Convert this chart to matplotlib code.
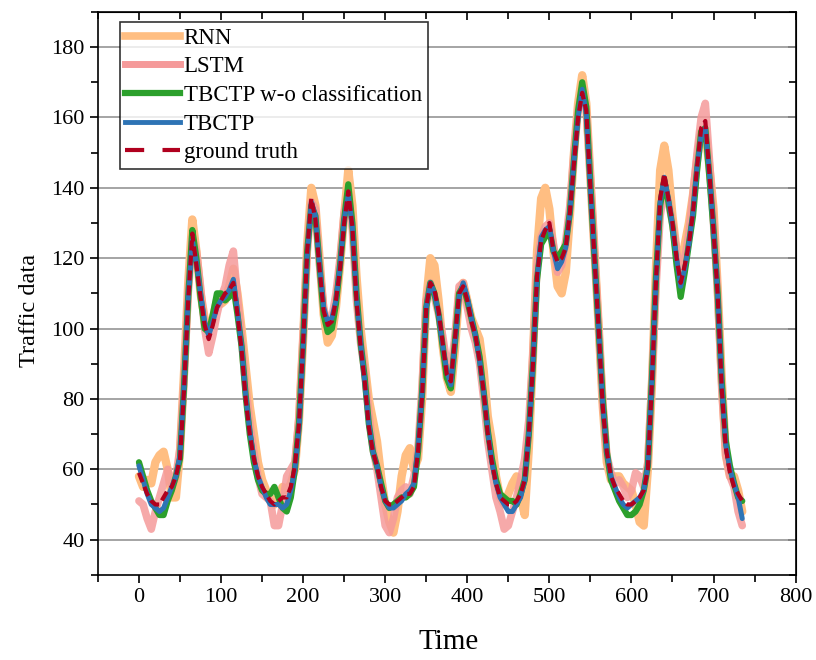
import numpy as np
import matplotlib
matplotlib.use('Agg')
import matplotlib.pyplot as plt
from matplotlib.lines import Line2D

plt.rcParams['font.family'] = ['Liberation Serif', 'DejaVu Serif']

# time steps (every 5th step of the series)
t = list(range(0, 740, 5))

# ground truth
gt = [59, 56, 53, 51, 50, 50, 52, 54, 55, 58, 63, 83, 108, 127, 118, 109, 101, 97, 101, 106,
      108, 110, 111, 113, 104, 94, 80, 70, 63, 58, 55, 53, 51, 50, 51, 52, 52, 55, 61, 73,
      96, 122, 137, 131, 117, 105, 101, 102, 108, 117, 130, 139, 129, 108, 95, 85, 72, 65, 61, 55,
      51, 50, 50, 51, 52, 53, 53, 55, 65, 81, 106, 113, 111, 105, 96, 87, 85, 97, 110, 112,
      108, 102, 98, 91, 82, 70, 62, 56, 52, 51, 50, 50, 51, 53, 57, 70, 90, 115, 125, 128,
      130, 122, 119, 120, 123, 133, 147, 160, 167, 162, 140, 120, 100, 78, 65, 58, 55, 53, 51, 50,
      50, 51, 52, 54, 60, 85, 114, 137, 144, 137, 130, 120, 113, 118, 124, 133, 146, 157, 159, 144,
      128, 110, 83, 66, 59, 55, 53, 51]

tbctp = [61, 57, 53, 50, 49, 48, 49, 52, 55, 58, 64, 84, 109, 125, 119, 110, 102, 98, 102, 106,
         108, 109, 111, 114, 105, 95, 81, 71, 63, 58, 55, 52, 50, 50, 50, 49, 50, 54, 60, 72,
         95, 121, 136, 132, 118, 106, 102, 103, 108, 118, 131, 138, 129, 109, 96, 85, 73, 65, 61, 55,
         51, 49, 49, 50, 51, 53, 54, 56, 66, 82, 106, 113, 110, 104, 95, 88, 84, 96, 109, 113,
         109, 103, 98, 91, 82, 71, 62, 56, 52, 50, 48, 48, 50, 52, 57, 70, 90, 114, 126, 128,
         129, 122, 117, 119, 123, 133, 148, 160, 168, 161, 140, 120, 100, 79, 65, 58, 55, 52, 50, 49,
         50, 51, 52, 54, 61, 86, 114, 136, 143, 137, 129, 120, 112, 117, 124, 133, 146, 155, 157, 144,
         128, 110, 84, 67, 60, 56, 52, 46]

tbctp_wo = [62, 58, 54, 51, 49, 47, 47, 51, 54, 58, 63, 84, 109, 128, 120, 109, 100, 99, 104, 110,
            110, 108, 109, 112, 104, 95, 81, 70, 62, 57, 54, 53, 53, 55, 52, 49, 48, 52, 60, 73,
            96, 122, 135, 132, 118, 104, 99, 100, 107, 118, 131, 141, 130, 110, 96, 86, 73, 65, 61, 56,
            51, 49, 50, 51, 52, 52, 53, 55, 65, 82, 106, 113, 110, 104, 95, 86, 83, 96, 110, 112,
            108, 103, 98, 92, 82, 71, 63, 57, 53, 52, 51, 51, 50, 53, 57, 70, 90, 114, 124, 126,
            128, 122, 120, 122, 124, 133, 148, 162, 170, 163, 141, 120, 100, 80, 65, 57, 54, 51, 49, 47,
            47, 48, 50, 54, 61, 86, 115, 135, 142, 136, 129, 118, 109, 116, 124, 132, 145, 156, 157, 143,
            128, 110, 85, 68, 61, 56, 52, 51]

rnn = [58, 55, 57, 56, 62, 64, 65, 60, 52, 52, 65, 88, 113, 131, 122, 110, 103, 100, 103, 108,
       107, 108, 112, 117, 110, 100, 89, 78, 70, 62, 57, 54, 52, 50, 52, 55, 54, 56, 60, 74,
       97, 124, 140, 135, 120, 104, 96, 98, 106, 118, 132, 145, 135, 115, 100, 90, 80, 74, 68, 58,
       50, 45, 42, 48, 58, 64, 66, 60, 63, 80, 108, 120, 118, 108, 95, 86, 82, 94, 110, 113,
       108, 103, 100, 97, 88, 75, 68, 58, 52, 50, 53, 56, 58, 52, 47, 66, 92, 122, 137, 140,
       134, 122, 112, 110, 116, 132, 150, 164, 172, 164, 143, 122, 101, 78, 62, 57, 58, 58, 56, 55,
       54, 50, 45, 44, 60, 84, 118, 145, 152, 145, 132, 122, 115, 124, 130, 138, 148, 156, 156, 146,
       134, 112, 86, 64, 58, 58, 54, 48]

lstm = [51, 50, 46, 43, 48, 52, 56, 60, 55, 58, 66, 86, 110, 126, 122, 112, 100, 93, 98, 104,
        109, 112, 118, 122, 109, 97, 84, 73, 65, 58, 53, 52, 51, 44, 44, 50, 58, 60, 62, 75,
        98, 122, 136, 134, 118, 106, 101, 103, 110, 120, 133, 138, 128, 108, 96, 88, 76, 66, 60, 52,
        44, 42, 46, 52, 54, 55, 53, 58, 66, 84, 108, 113, 109, 104, 98, 90, 88, 98, 112, 113,
        106, 100, 96, 90, 80, 68, 60, 52, 48, 43, 44, 48, 52, 57, 63, 74, 93, 118, 126, 129,
        130, 124, 116, 118, 125, 135, 150, 162, 168, 162, 143, 122, 101, 79, 64, 59, 56, 57, 55, 52,
        54, 59, 58, 55, 62, 86, 112, 132, 140, 136, 130, 122, 115, 120, 127, 138, 150, 160, 164, 148,
        130, 110, 83, 64, 58, 55, 48, 44]

labels = ['RNN', 'LSTM', 'TBCTP w-o classification', 'TBCTP', 'ground truth']
colors = ['#FFBE82', '#F59A9A', '#2CA02C', '#2E74B5', '#B0001E']

fig = plt.figure(figsize=(8.16, 6.6), dpi=100)
ax = fig.add_axes([0.120, 0.129, 0.855, 0.853])

ax.plot(t, rnn, color=colors[0], lw=6, solid_capstyle='round', zorder=2)
ax.plot(t, lstm, color=colors[1], lw=5.5, alpha=0.85, solid_capstyle='round', zorder=3)
ax.plot(t, tbctp_wo, color=colors[2], lw=4.5, solid_capstyle='round', zorder=4)
ax.plot(t, tbctp, color=colors[3], lw=3.6, solid_capstyle='round', zorder=5)
ax.plot(t, gt, color=colors[4], lw=3, dashes=(2.4, 1.2), zorder=6)

ax.set_xlim(-50, 800)
ax.set_ylim(30, 190)
ax.set_xticks(np.arange(0, 801, 100))
ax.set_xticks(np.arange(-50, 801, 50), minor=True)
ax.set_yticks(np.arange(40, 181, 20))
ax.set_yticks(np.arange(30, 191, 10), minor=True)
ax.yaxis.grid(True, color='#959595', lw=1.2)
ax.set_axisbelow(True)

ax.tick_params(axis='both', which='both', direction='out', labelsize=16, width=1.2)
ax.tick_params(which='major', length=6)
ax.tick_params(which='minor', length=5)
for s in ax.spines.values():
    s.set_linewidth(1.2)

# top and right ticks point inward
sec_x = ax.secondary_xaxis('top')
sec_x.set_xticks(np.arange(0, 801, 100))
sec_x.set_xticks(np.arange(-50, 801, 50), minor=True)
sec_x.tick_params(which='both', direction='in', labeltop=False, width=1.2)
sec_x.tick_params(which='major', length=6)
sec_x.tick_params(which='minor', length=5)
sec_y = ax.secondary_yaxis('right')
sec_y.set_yticks(np.arange(40, 181, 20))
sec_y.set_yticks(np.arange(30, 191, 10), minor=True)
sec_y.tick_params(which='both', direction='in', labelright=False, width=1.2)
sec_y.tick_params(which='major', length=6)
sec_y.tick_params(which='minor', length=5)

ax.set_xlabel('Time', fontsize=21)
ax.xaxis.set_label_coords(0.502, -0.097)
ax.set_ylabel('Traffic data', fontsize=17.5)
ax.yaxis.set_label_coords(-0.083, 0.47)

handles = [
    Line2D([], [], color=colors[0], lw=5.5),
    Line2D([], [], color=colors[1], lw=5),
    Line2D([], [], color=colors[2], lw=4.5),
    Line2D([], [], color=colors[3], lw=3.5),
    Line2D([], [], color=colors[4], lw=3, dashes=(4.6, 4.4)),
]
leg = ax.legend(handles, labels, loc='upper left', bbox_to_anchor=(0.031, 0.982),
                fontsize=16.5, frameon=True, fancybox=False, edgecolor='black',
                handlelength=2.4, handletextpad=0.15, borderpad=0.25,
                labelspacing=0.33, borderaxespad=0.0)
leg.get_frame().set_linewidth(1.2)
leg.set_zorder(10)

plt.savefig('out.png', dpi=100)
